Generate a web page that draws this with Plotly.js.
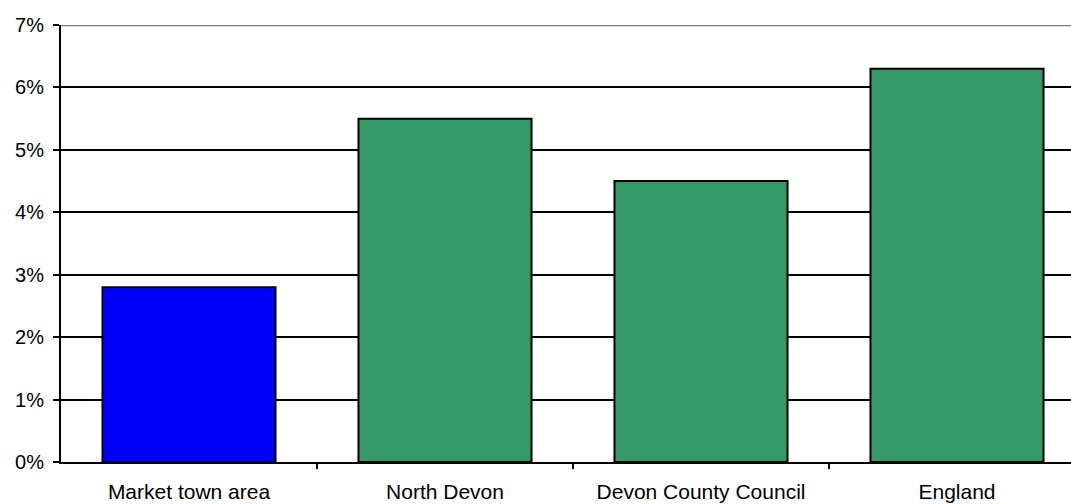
<!DOCTYPE html>
<html><head><meta charset="utf-8">
<script src="https://cdn.plot.ly/plotly-3.0.1.min.js"></script>
<style>html,body{margin:0;padding:0;background:#fff}#c{width:1071px;height:504px}</style>
</head><body><div id="c"></div>
<script>
const categories = ["Market town area", "North Devon", "Devon County Council", "England"];
const values = [2.8, 5.5, 4.5, 6.3];
const barColors = ["#0000FF", "#339966", "#339966", "#339966"];
const yTicks = [0, 1, 2, 3, 4, 5, 6, 7];
const yTickLabels = ["0%", "1%", "2%", "3%", "4%", "5%", "6%", "7%"];
const idx = categories.map((c, i) => i);

const trace = {
  type: "bar", x: idx, y: values, width: 0.676,
  marker: {color: barColors, line: {color: "#000", width: 2}},
  hoverinfo: "skip", showlegend: false
};
const tickTrace = {type: "scatter", x: [0], y: [0], xaxis: "x2", mode: "none", showlegend: false, hoverinfo: "skip"};

const layout = {
  width: 1071, height: 504,
  margin: {l: 61, r: 0, t: 25, b: 42},
  paper_bgcolor: "#fff", plot_bgcolor: "#fff",
  font: {family: "Liberation Sans, Arial, sans-serif", size: 21, color: "#000"},
  bargap: 0,
  xaxis: {
    range: [-0.5, -0.5 + 1010 / 256], tickvals: idx, ticktext: categories,
    ticks: "", showgrid: false, zeroline: false, showline: true, linecolor: "#000", linewidth: 2,
    tickfont: {size: 21, color: "#000"}, ticklabelstandoff: 10, fixedrange: true
  },
  xaxis2: {
    overlaying: "x", matches: "x", side: "bottom", tickvals: [0.5, 1.5, 2.5],
    ticks: "outside", ticklen: 6, tickwidth: 2, tickcolor: "#000", showticklabels: false,
    showgrid: false, zeroline: false, showline: false
  },
  yaxis: {
    range: [0, 7], tickvals: yTicks, ticktext: yTickLabels,
    showgrid: true, gridcolor: "#000", gridwidth: 2,
    zeroline: false, showline: true, linecolor: "#000", linewidth: 2,
    ticks: "outside", ticklen: 6, tickwidth: 2, tickcolor: "#000",
    tickfont: {size: 20, color: "#000"}, ticklabelstandoff: 5, fixedrange: true
  },
  shapes: [{type: "line", xref: "paper", yref: "y", x0: 0, x1: 1, y0: 7, y1: 7, line: {color: "#808080", width: 2.5}}]
};
Plotly.newPlot("c", [trace, tickTrace], layout, {staticPlot: true});
</script></body></html>
